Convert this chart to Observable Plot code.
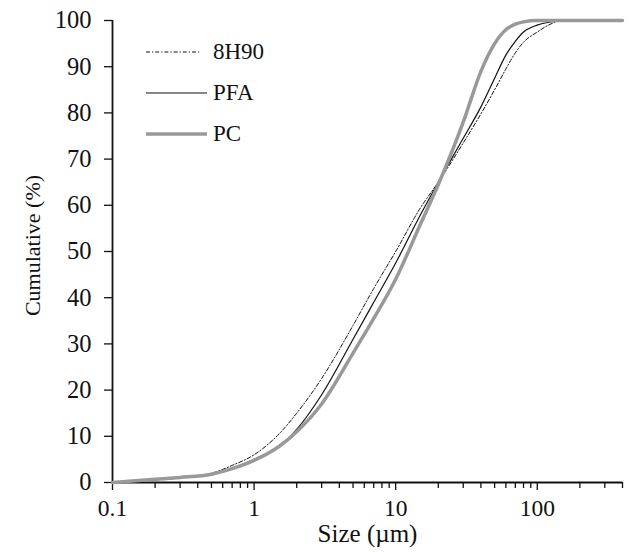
<!DOCTYPE html>
<html>
<head>
<meta charset="utf-8">
<script src="https://cdn.jsdelivr.net/npm/d3@7"></script>
<script src="https://cdn.jsdelivr.net/npm/@observablehq/plot@0.6"></script>
<style>
  html, body { margin: 0; padding: 0; background: #fff; }
  #wrap { position: relative; width: 629px; height: 553px; font-family: "Liberation Serif", "Times New Roman", serif; }
  #legend { position: absolute; left: 145px; top: 31px; font-size: 23px; color: #111; }
  #legend .row { display: flex; align-items: center; height: 41px; }
  #legend svg { width: 64px; height: 10px; margin-right: 4px; }
</style>
</head>
<body>
<div id="wrap">
  <div id="chart"></div>
  <div id="legend"></div>
</div>
<script>
// Particle size (µm)
const sizes = [0.1, 0.2, 0.3, 0.5, 0.7, 1, 1.5, 2, 3, 5, 7, 10, 15, 20, 30, 40, 50, 60, 70, 80, 100, 120, 150, 200, 400];
// Cumulative passing (%)
const h90 = [0, 0.6, 1.1, 2.0, 3.7, 6.0, 10.5, 15, 22.5, 34, 42, 50, 59.5, 65, 73.5, 79.8, 85, 89.5, 93, 95.3, 97.5, 99, 100, 100, 100];
const pfa = [0, 0.6, 1.0, 1.7, 3.0, 5.0, 7.8, 11.5, 19, 31, 39, 47.5, 58, 65, 74.5, 81.3, 87.5, 92.5, 95.5, 97.5, 99, 99.6, 100, 100, 100];
const pc  = [0, 0.7, 1.1, 1.8, 3.0, 4.8, 7.8, 11, 17, 28, 35.5, 44, 56, 64.5, 78, 89, 95, 98, 99.2, 99.7, 100, 100, 100, 100, 100];

const seriesNames = ["8H90", "PFA", "PC"];
const seriesValues = [h90, pfa, pc];
const seriesStroke = ["#111", "#111", "#999"];
const seriesWidth = [1, 1.2, 3.5];
const seriesDash = ["4,2,1.2,2", null, null];

const yTicks = d3.range(0, 101, 10);
const xMajor = [0.1, 1, 10, 100];
const xMinor = [0.2,0.3,0.4,0.5,0.6,0.7,0.8,0.9,2,3,4,5,6,7,8,9,20,30,40,50,60,70,80,90,200,300,400];

const rows = [];
seriesNames.forEach((s, i) => sizes.forEach((x, j) => rows.push({series: s, x, y: seriesValues[i][j]})));

const lineMarks = seriesNames.map((s, i) =>
  Plot.line(rows.filter(d => d.series === s), {
    x: "x", y: "y", curve: "monotone-x",
    stroke: seriesStroke[i], strokeWidth: seriesWidth[i],
    strokeDasharray: seriesDash[i] || undefined
  })
);

const chart = Plot.plot({
  width: 629,
  height: 553,
  marginLeft: 112,
  marginRight: 7,
  marginTop: 20,
  marginBottom: 71,
  style: {fontFamily: '"Liberation Serif", "Times New Roman", serif', fontSize: "24px", color: "#111", background: "#fff"},
  x: {type: "log", domain: [0.1, 400]},
  y: {domain: [0, 100]},
  marks: [
    Plot.axisY(yTicks, {tickSize: 8, tickPadding: 13, strokeWidth: 1.3, label: null, fontSize: 24.5}),
    Plot.axisX(xMajor, {tickSize: 8, tickPadding: 9, strokeWidth: 1.3, label: null, tickFormat: d => String(d), fontSize: 23.5}),
    Plot.axisX(xMinor, {tickSize: 6, strokeWidth: 1.3, label: null, tickFormat: () => ""}),
    Plot.ruleY([0], {stroke: "#111", strokeWidth: 1.8}),
    Plot.ruleX([0.1], {stroke: "#111", strokeWidth: 1.8}),
    ...lineMarks,
    Plot.text(["Size (µm)"], {frameAnchor: "bottom", dy: 59, fontSize: 25, fill: "#111"}),
    Plot.text(["Cumulative (%)"], {frameAnchor: "left", dx: -80, dy: -6, rotate: -90, fontSize: 22, fill: "#111", textAnchor: "middle"})
  ]
});
document.getElementById("chart").appendChild(chart);

// Legend
const legend = document.getElementById("legend");
seriesNames.forEach((s, i) => {
  const row = document.createElement("div");
  row.className = "row";
  const dash = seriesDash[i] ? `stroke-dasharray="${seriesDash[i]}"` : "";
  const len = i === 0 ? 55 : 62;
  row.innerHTML = `<svg viewBox="0 0 64 10"><line x1="1" y1="5" x2="${len}" y2="5" stroke="${seriesStroke[i]}" stroke-width="${seriesWidth[i]}" ${dash}/></svg><span>${s}</span>`;
  legend.appendChild(row);
});
</script>
</body>
</html>
